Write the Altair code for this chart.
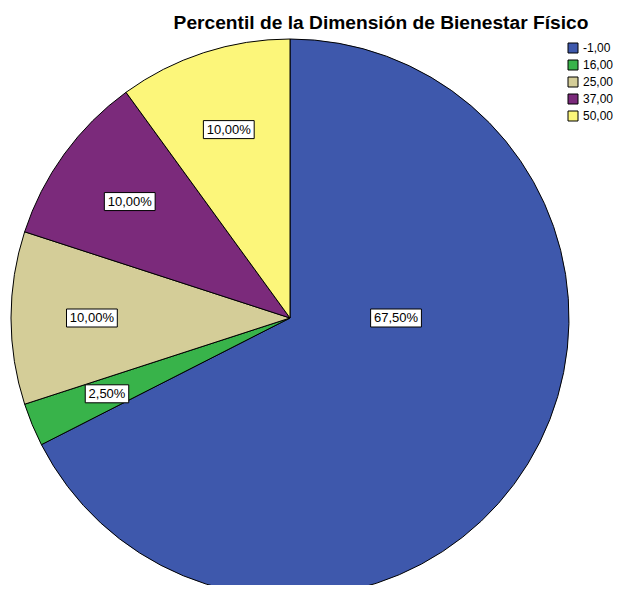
import altair as alt
import pandas as pd

title_text = "Percentil de la Dimensión de Bienestar Físico"
categories = ["-1,00", "16,00", "25,00", "37,00", "50,00"]
percentages = [67.5, 2.5, 10.0, 10.0, 10.0]
colors = ["#3E58AC", "#38B34A", "#D4CD98", "#7B2A7B", "#FCF67A"]

df = pd.DataFrame({"cat": categories, "pct": percentages, "ord": list(range(len(categories)))})

CX, CY, R = 282, 310, 279
FONT = "Liberation Sans"

base = alt.Chart(df)

pie = base.mark_arc(outerRadius=R, stroke="black", strokeWidth=1).encode(
    theta=alt.Theta("pct:Q", stack=True),
    color=alt.Color(
        "cat:N",
        sort=categories,
        scale=alt.Scale(domain=categories, range=colors),
        legend=alt.Legend(
            title=None, orient="none", legendX=559, legendY=34,
            symbolType="square", symbolSize=100, symbolStrokeColor="black",
            symbolStrokeWidth=1, symbolOpacity=1,
            labelFontSize=12, labelFont=FONT, labelColor="black",
            labelOffset=4, rowPadding=3, padding=0,
        ),
    ),
    order=alt.Order("ord:Q"),
    x=alt.value(CX),
    y=alt.value(CY),
)

labels = base.transform_window(
    cum="sum(pct)", sort=[alt.SortField("ord")], frame=[None, 0]
).transform_joinaggregate(
    tot="sum(pct)"
).transform_calculate(
    mid="(datum.cum - datum.pct/2)/datum.tot*2*PI",
    big="datum.pct/datum.tot > 0.5",
).transform_calculate(
    ang="datum.big ? PI/2 : datum.mid",
    rr=f"datum.big ? {0.38 * R} : {0.71 * R}",
).transform_calculate(
    lx=f"{CX} + datum.rr*sin(datum.ang)",
    ly=f"{CY} - datum.rr*cos(datum.ang)",
    txt="replace(format(datum.pct, '.2f'), '.', ',') + '%'",
).transform_calculate(
    w="length(datum.txt)*7.3 + 7",
).transform_calculate(
    bx1="datum.lx - datum.w/2",
    bx2="datum.lx + datum.w/2",
    by1="datum.ly - 9",
    by2="datum.ly + 9",
)

boxes = labels.mark_rect(fill="white", stroke="black", strokeWidth=1).encode(
    x=alt.X("bx1:Q", scale=None, axis=None),
    x2="bx2:Q",
    y=alt.Y("by1:Q", scale=None, axis=None),
    y2="by2:Q",
)

texts = labels.mark_text(fontSize=13, font=FONT, color="black", baseline="middle", align="center").encode(
    x=alt.X("lx:Q", scale=None, axis=None),
    y=alt.Y("ly:Q", scale=None, axis=None),
    text="txt:N",
)

title = alt.Chart(pd.DataFrame({"t": [title_text]})).mark_text(
    fontSize=19.2, fontWeight="bold", font=FONT, color="black", baseline="middle", align="center"
).encode(text="t:N", x=alt.value(373), y=alt.value(15))

chart = alt.layer(pie, boxes, texts, title).properties(
    width=606, height=577, autosize="none", padding=0
).configure_view(strokeWidth=0)

chart.save("out.html", embed_options={"renderer": "svg", "actions": False})
